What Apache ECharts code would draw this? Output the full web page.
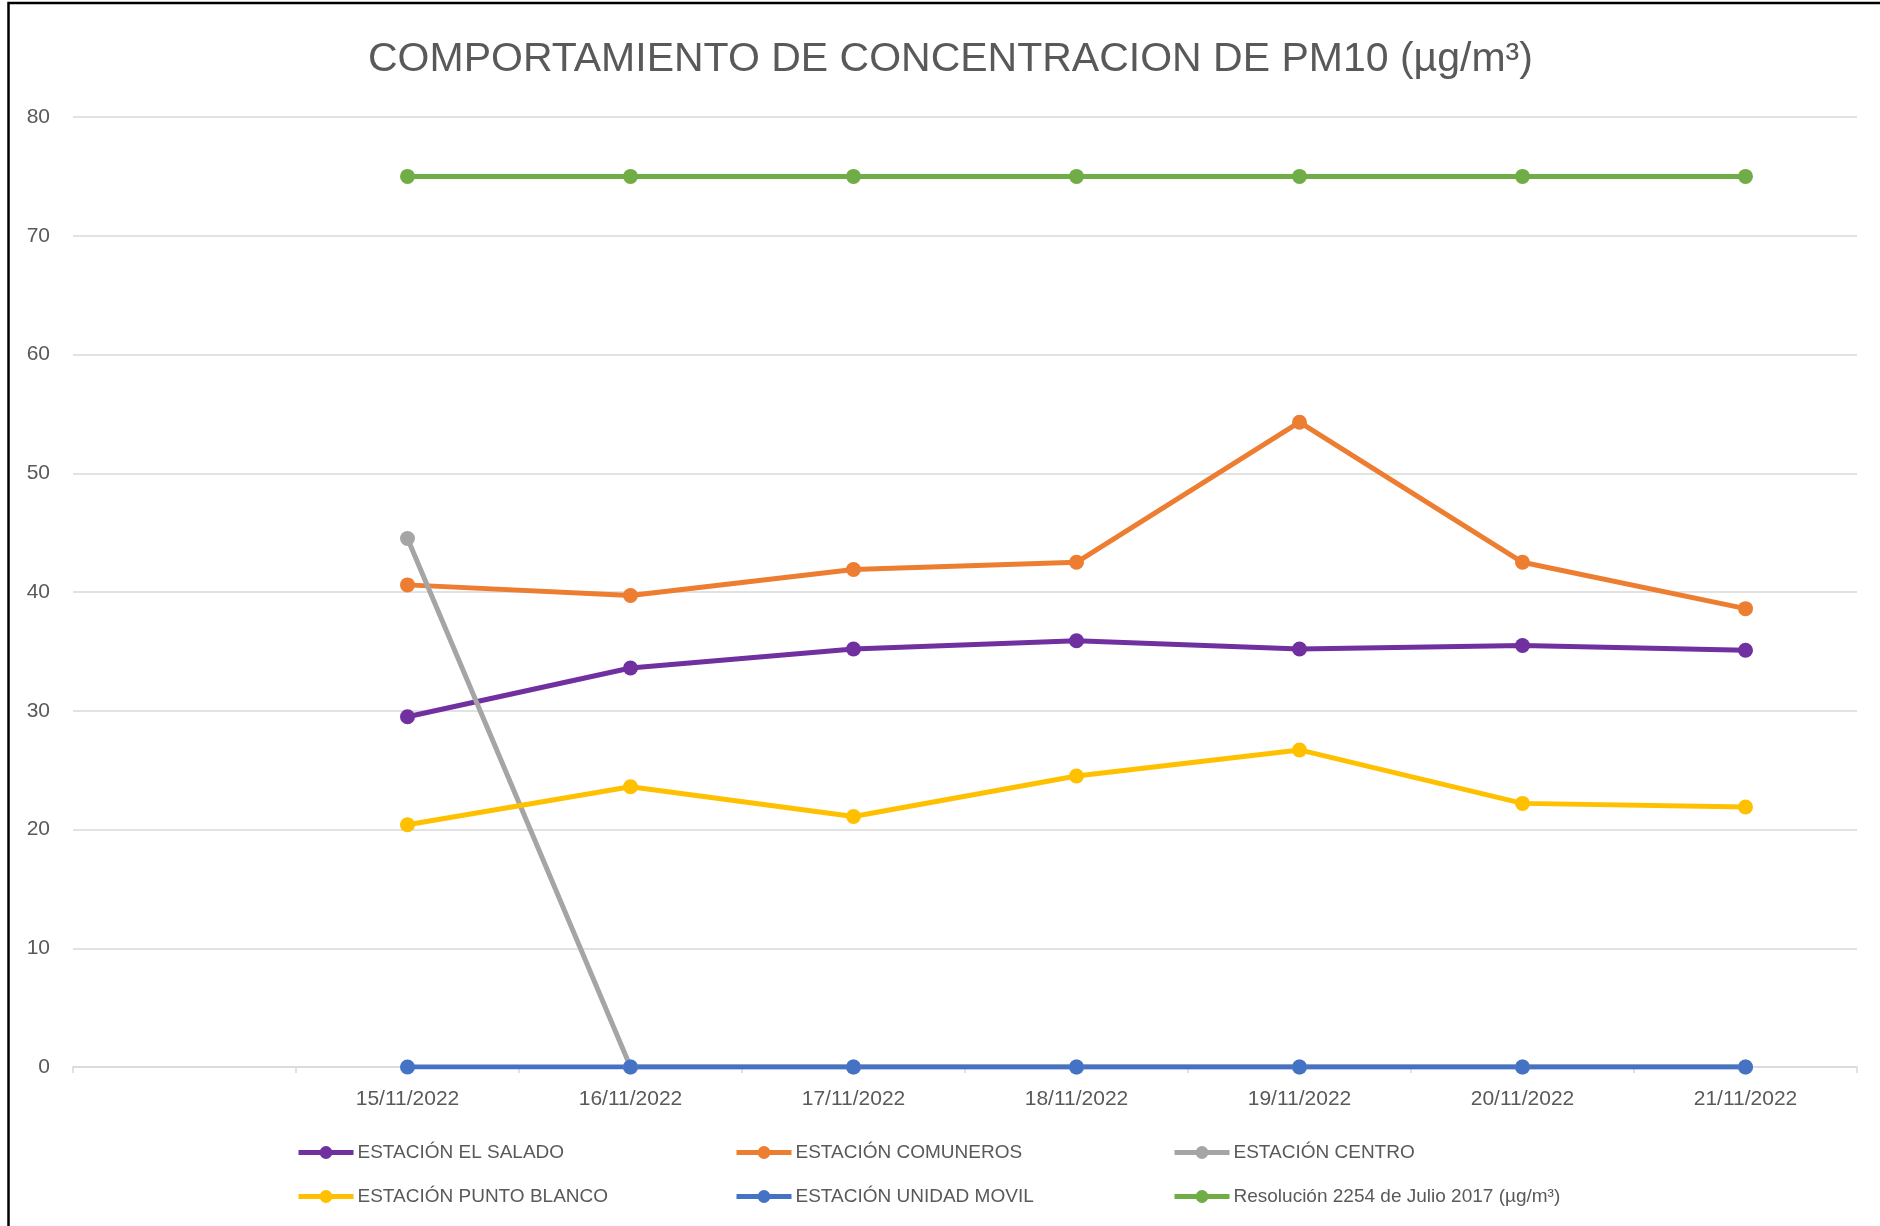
<!DOCTYPE html>
<html>
<head>
<meta charset="utf-8">
<script src="https://cdn.jsdelivr.net/npm/echarts@6/dist/echarts.min.js"></script>
<style>
html, body { margin: 0; padding: 0; background: #ffffff; }
#chart { width: 1880px; height: 1226px; }
</style>
</head>
<body>
<div id="chart"></div>
<script>
// Categories (first slot is empty in the original chart)
const categories = ['', '15/11/2022', '16/11/2022', '17/11/2022', '18/11/2022', '19/11/2022', '20/11/2022', '21/11/2022'];

// Series values (PM10, µg/m³)
const elSalado    = [null, 29.5, 33.6, 35.2, 35.9, 35.2, 35.5, 35.1];
const comuneros   = [null, 40.6, 39.7, 41.9, 42.5, 54.3, 42.5, 38.6];
const centro      = [null, 44.5, 0, 0, 0, 0, 0, 0];
const puntoBlanco = [null, 20.4, 23.6, 21.1, 24.5, 26.7, 22.2, 21.9];
const unidadMovil = [null, 0, 0, 0, 0, 0, 0, 0];
const resolucion  = [null, 75, 75, 75, 75, 75, 75, 75];

const seriesNames = [
  'ESTACIÓN EL SALADO',
  'ESTACIÓN COMUNEROS',
  'ESTACIÓN CENTRO',
  'ESTACIÓN PUNTO BLANCO',
  'ESTACIÓN UNIDAD MOVIL',
  'Resolución 2254 de Julio 2017 (µg/m³)'
];
const seriesData = [elSalado, comuneros, centro, puntoBlanco, unidadMovil, resolucion];
const seriesColors = ['#7030A0', '#ED7D31', '#A5A5A5', '#FFC000', '#4472C4', '#70AD47'];

const titleText = 'COMPORTAMIENTO DE CONCENTRACION DE PM10 (µg/m³)';

const FONT = "'Liberation Sans', Arial, sans-serif";
const TXT = '#595959';

const chart = echarts.init(document.getElementById('chart'), null, { renderer: 'canvas' });

// legend placement: 3 columns x 2 rows
const legendCols = [296, 734, 1172];
const legendRows = [1143, 1187];
const legends = seriesNames.map((name, i) => ({
  data: [name],
  left: legendCols[i % 3],
  top: legendRows[Math.floor(i / 3)],
  padding: 0,
  itemWidth: 55,
  itemHeight: 16,
  itemGap: 0,
  lineStyle: { width: 5 },
  textStyle: { fontFamily: FONT, fontSize: 19, color: TXT, padding: [0, 0, 0, -1] },
  selectedMode: false
}));

const option = {
  animation: false,
  backgroundColor: '#ffffff',
  title: {
    text: titleText,
    left: 368,
    top: 39,
    padding: 0,
    textStyle: { fontFamily: FONT, fontSize: 41, fontWeight: 'normal', color: TXT }
  },
  graphic: [{
    type: 'rect',
    shape: { x: 8.5, y: 3, width: 3000, height: 3000 },
    style: { fill: 'none', stroke: '#000000', lineWidth: 2.5 },
    silent: true,
    z: 100
  }],
  legend: legends,
  grid: { left: 73, right: 23, top: 117, bottom: 159, containLabel: false },
  xAxis: {
    type: 'category',
    data: categories,
    boundaryGap: true,
    axisLine: { show: true, lineStyle: { color: '#D9D9D9', width: 1.5 } },
    axisTick: { show: true, length: 6, alignWithLabel: false, lineStyle: { color: '#D9D9D9', width: 1.5 } },
    axisLabel: { fontFamily: FONT, fontSize: 21, color: TXT, margin: 22, interval: 0 },
    splitLine: { show: false }
  },
  yAxis: {
    type: 'value',
    min: 0,
    max: 80,
    interval: 10,
    axisLine: { show: false },
    axisTick: { show: false },
    axisLabel: { fontFamily: FONT, fontSize: 21, color: TXT, margin: 23 },
    splitLine: { lineStyle: { color: '#D9D9D9', width: 1.5 } }
  },
  series: seriesNames.map((name, i) => ({
    name: name,
    type: 'line',
    data: seriesData[i],
    symbol: 'circle',
    symbolSize: 15,
    showSymbol: true,
    connectNulls: false,
    lineStyle: { color: seriesColors[i], width: 5 },
    itemStyle: { color: seriesColors[i] },
    emphasis: { disabled: true }
  }))
};

chart.setOption(option);
</script>
</body>
</html>
